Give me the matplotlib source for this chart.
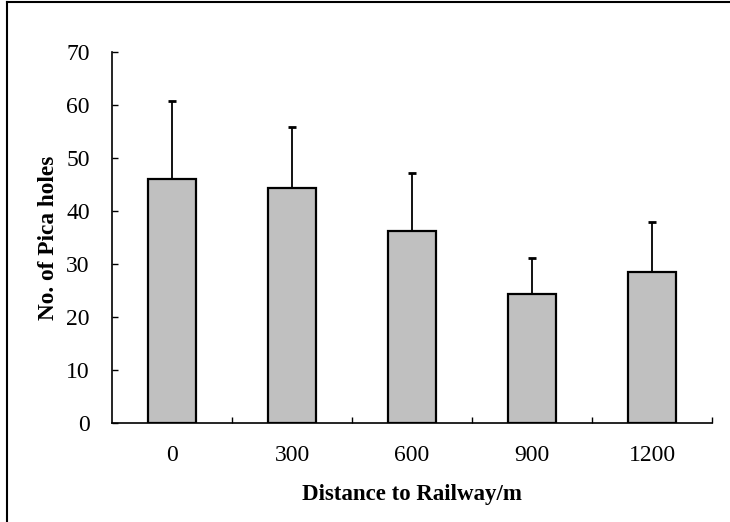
import numpy as np
import matplotlib.pyplot as plt
from matplotlib.lines import Line2D

# Data: jumlah lubang pika vs jarak ke rel kereta
distances = ['0', '300', '600', '900', '1200']
means = np.array([46.1, 44.4, 36.2, 24.3, 28.5])
errors = np.array([14.7, 11.4, 11.0, 6.8, 9.4])

plt.rcParams['font.family'] = ['Liberation Serif', 'DejaVu Serif']

fig = plt.figure(figsize=(7.3, 5.22), dpi=100)
ax = fig.add_axes([112/730, (522-423)/522, 600/730, (423-52)/522])

x = np.arange(len(distances))
ax.bar(x, means, width=0.4, color='#C0C0C0', edgecolor='black', linewidth=1.6, zorder=2)
ax.errorbar(x, means, yerr=[np.zeros_like(errors), errors], fmt='none',
            ecolor='black', elinewidth=1.3, capsize=3, capthick=2, zorder=1)

ax.set_xlim(-0.5, len(distances) - 0.5)
ax.set_ylim(0, 70)
ax.set_yticks(np.arange(0, 71, 10))
ax.set_xticks(x)
ax.set_xticklabels(distances)
ax.set_xticks(np.arange(0.5, len(distances), 1), minor=True)

ax.spines['top'].set_visible(False)
ax.spines['right'].set_visible(False)
ax.spines['left'].set_linewidth(1.2)
ax.spines['bottom'].set_linewidth(1.2)

ax.tick_params(axis='x', which='major', length=0, pad=16, labelsize=17)
ax.tick_params(axis='x', which='minor', direction='in', length=4.5, width=1)
ax.tick_params(axis='y', direction='in', length=4.5, width=1, pad=16, labelsize=17)

ax.set_xlabel('Distance to Railway/m', fontsize=16.5, fontweight='bold', labelpad=13)
ax.set_ylabel('No. of Pica holes', fontsize=16.8, fontweight='bold', labelpad=5)

# bingkai tipis di kiri dan atas
fig.add_artist(Line2D([7/730, 7/730], [0, 1 - 2/522], color='black', linewidth=1.5))
fig.add_artist(Line2D([7/730, 1], [1 - 2/522, 1 - 2/522], color='black', linewidth=1.5))

fig.savefig('out.png', dpi=100)
